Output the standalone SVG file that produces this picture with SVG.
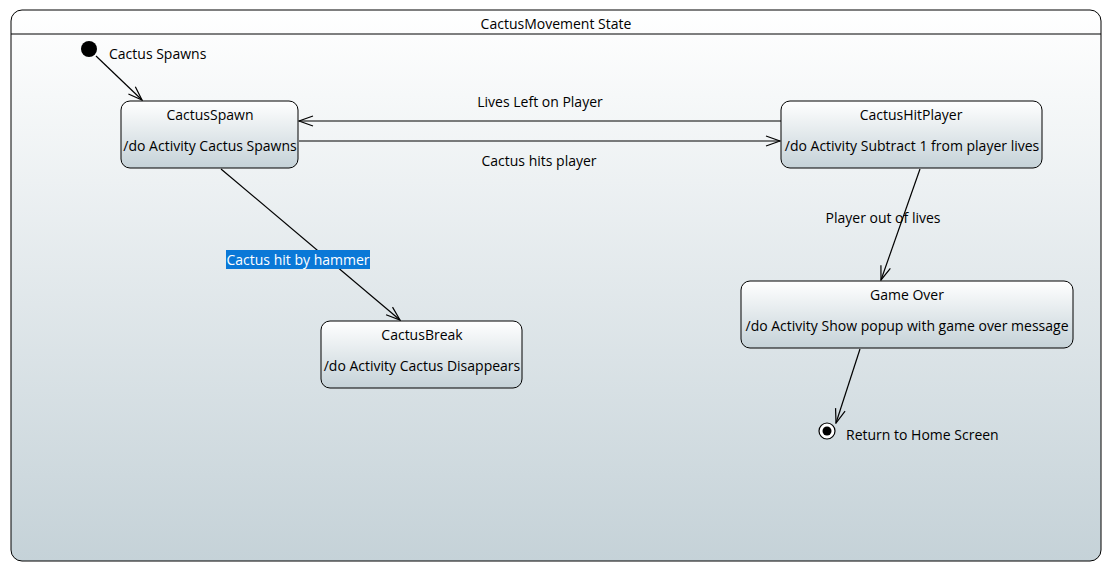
<svg xmlns="http://www.w3.org/2000/svg" width="1111" height="571" viewBox="0 0 1111 571">
<defs>
<linearGradient id="bg" x1="0" y1="0" x2="0" y2="1">
<stop offset="0" stop-color="#ffffff"/>
<stop offset="1" stop-color="#c5d2d8"/>
</linearGradient>
<linearGradient id="ng" x1="0" y1="0" x2="0" y2="1">
<stop offset="0" stop-color="#ffffff"/>
<stop offset="1" stop-color="#c5d2d8"/>
</linearGradient>
<marker id="arr" markerWidth="16" markerHeight="12" refX="15" refY="6" orient="auto" markerUnits="userSpaceOnUse">
<path d="M1,1 L15,6 L1,11" fill="none" stroke="#000" stroke-width="1.2"/>
</marker>
</defs>
<style>
text{font-family:"Open Sans","Liberation Sans",Arial,sans-serif;font-size:14px;fill:#000}
.c{text-anchor:middle}
.node{fill:url(#ng);stroke:#000;stroke-width:1}
.edge{fill:none;stroke:#000;stroke-width:1.2;marker-end:url(#arr)}
</style>
<g id="frame">
<rect x="11" y="10" width="1090" height="551" rx="11" fill="url(#bg)" stroke="#000" stroke-width="1"/>
<line x1="11" y1="34" x2="1101" y2="34" stroke="#000" stroke-width="1"/>
<text class="c" x="556" y="29">CactusMovement State</text>
</g>
<g id="initial">
<circle cx="89" cy="49" r="8" fill="#000"/>
<text x="109" y="59">Cactus Spawns</text>
</g>
<g id="CactusSpawn">
<rect class="node" x="121" y="101" width="177" height="67" rx="9"/>
<text class="c" x="210" y="120">CactusSpawn</text>
<text class="c" x="210" y="151">/do Activity Cactus Spawns</text>
</g>
<g id="CactusHitPlayer">
<rect class="node" x="781" y="101" width="261" height="67" rx="9"/>
<text class="c" x="911" y="120">CactusHitPlayer</text>
<text class="c" x="912" y="151">/do Activity Subtract 1 from player lives</text>
</g>
<g id="CactusBreak">
<rect class="node" x="321" y="321" width="201" height="67" rx="9"/>
<text class="c" x="422" y="340">CactusBreak</text>
<text class="c" x="422" y="371">/do Activity Cactus Disappears</text>
</g>
<g id="GameOver">
<rect class="node" x="741" y="281" width="332" height="67" rx="9"/>
<text class="c" x="907" y="300">Game Over</text>
<text class="c" x="907" y="331">/do Activity Show popup with game over message</text>
</g>
<g id="final">
<circle cx="827" cy="431" r="8" fill="#fff" stroke="#000" stroke-width="1.2"/>
<circle cx="827" cy="431" r="4.5" fill="#000"/>
<text x="846" y="440">Return to Home Screen</text>
</g>
<g id="connectors">
<line class="edge" x1="96" y1="56" x2="142" y2="100"/>
<line class="edge" x1="781" y1="121" x2="299" y2="121"/>
<text class="c" x="540" y="107">Lives Left on Player</text>
<line class="edge" x1="299" y1="141" x2="780" y2="141"/>
<text class="c" x="539" y="166">Cactus hits player</text>
<line class="edge" x1="221" y1="169" x2="400" y2="320"/>
<rect x="226" y="250" width="144" height="19" fill="#0a78d7"/>
<text class="c" x="298" y="265" style="fill:#fff">Cactus hit by hammer</text>
<line class="edge" x1="920" y1="169" x2="881" y2="280"/>
<text class="c" x="883" y="223">Player out of lives</text>
<line class="edge" x1="860" y1="349" x2="836" y2="423"/>
</g>
</svg>
